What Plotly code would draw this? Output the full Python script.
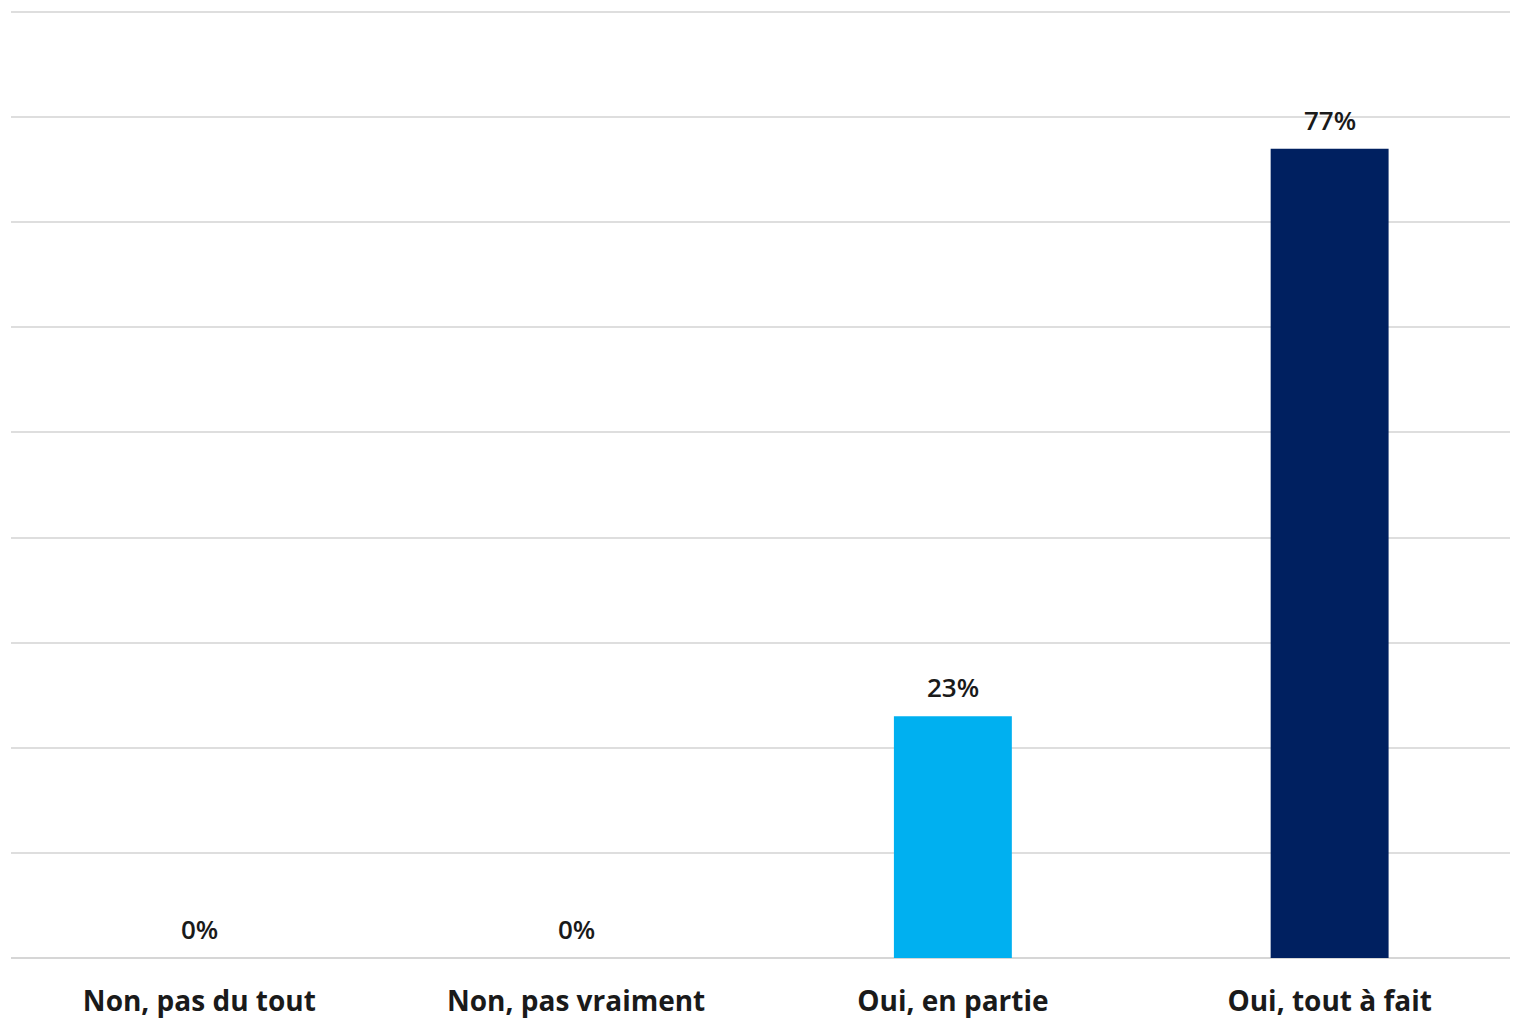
import plotly.graph_objects as go

categories = ["Non, pas du tout", "Non, pas vraiment", "Oui, en partie", "Oui, tout à fait"]
values = [0, 0, 23, 77]
labels = ["0%", "0%", "23%", "77%"]
colors = ["#00B0F0", "#00B0F0", "#00B0F0", "#002060"]

fig = go.Figure()
fig.add_trace(go.Bar(
    x=categories, y=values, marker=dict(color=colors, line=dict(width=0)),
    width=0.313, hoverinfo="skip",
))
for c, v, t in zip(categories, values, labels):
    fig.add_annotation(x=c, y=v, text=t, showarrow=False, yanchor="bottom", yshift=9,
                       font=dict(family="Open Sans", size=26, color="#1a1a1a", weight=600))

fig.update_layout(
    width=1510, height=1011,
    margin=dict(l=3, r=0, t=3, b=59),
    plot_bgcolor="white", paper_bgcolor="white",
    showlegend=False,
    font=dict(family="Open Sans", color="#1a1a1a"),
    xaxis=dict(showgrid=False, showline=False, zeroline=False, ticks="",
               tickfont=dict(family="Open Sans", size=28, color="#1a1a1a", weight=700),
               ticklabelstandoff=24),
    yaxis=dict(range=[0, 90.1], tick0=0, dtick=10, showticklabels=False, showgrid=True,
               gridcolor="#dedede", gridwidth=2, zeroline=True, zerolinecolor="#d6d6d6",
               zerolinewidth=2, showline=False, ticks=""),
)
fig.write_html("out.html")
